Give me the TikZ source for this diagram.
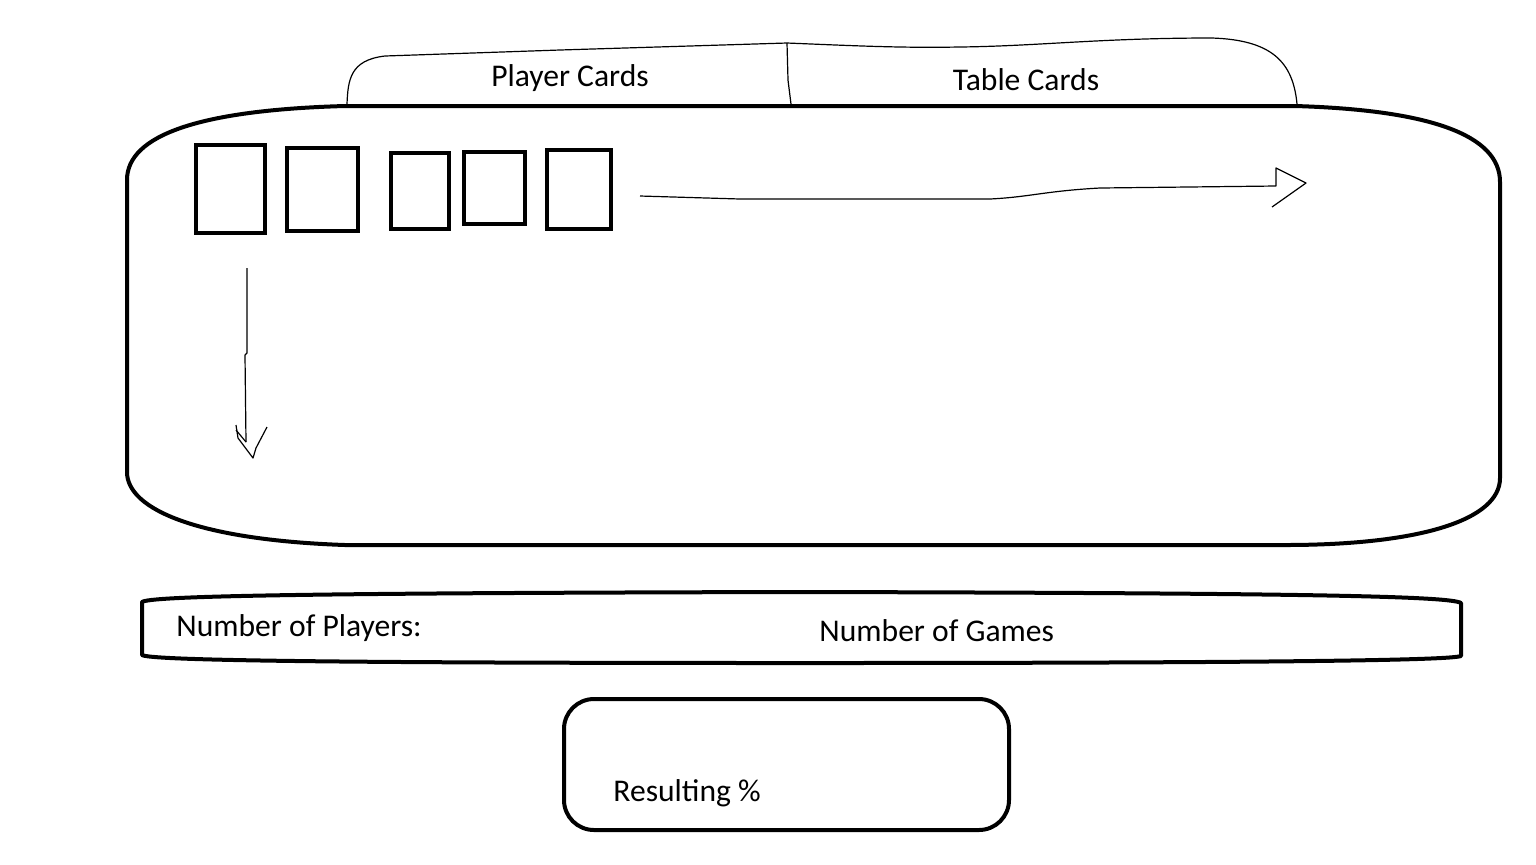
\documentclass[tikz,border=0pt]{standalone}
\usepackage{fontspec}
\setmainfont{Carlito}
\begin{document}
\begin{tikzpicture}[x=0.5pt,y=-0.5pt,
  thick line/.style={line width=2pt, line join=round},
  thin line/.style={line width=0.6pt, line join=round},
  card/.style={draw, line width=2.2pt, inner sep=0pt, anchor=north west},
  lbl/.style={font=\fontsize{15.8}{19}\selectfont, inner sep=0pt}]
\useasboundingbox (0,0) rectangle (1536,864);
% tabs
\draw[thin line] (347,104) .. controls (348,80) and (350,60) .. (385,56)
  -- (560,50) -- (787,43) .. controls (860,46) and (900,48) .. (960,47)
  .. controls (1040,46) and (1100,38) .. (1212,38)
  .. controls (1272,40) and (1293,62) .. (1297,104);
\draw[thin line] (787,43) -- (788,80) -- (791,104);
\node[lbl] (pc) at (570,78) {Player Cards};
\node[lbl] (tc) at (1026,80) {Table Cards};
% table
\draw[thick line] (345,106) -- (1295,106)
  .. controls (1430,110) and (1500,135) .. (1500,182)
  -- (1500,478) .. controls (1500,520) and (1420,545) .. (1285,545)
  -- (345,545) .. controls (200,540) and (127,510) .. (127,472)
  -- (127,180) .. controls (127,135) and (200,110) .. (345,106);
% cards
\node[card, minimum width=69pt*0.5, minimum height=88pt*0.5] (c1) at (194,143) {};
\node[card, minimum width=71pt*0.5, minimum height=83pt*0.5] (c2) at (285,146) {};
\node[card, minimum width=58pt*0.5, minimum height=76pt*0.5] (c3) at (389,151) {};
\node[card, minimum width=61pt*0.5, minimum height=72pt*0.5] (c4) at (462,150) {};
\node[card, minimum width=64pt*0.5, minimum height=79pt*0.5] (c5) at (545,148) {};
% horizontal arrow
\coordinate (hs) at (640,196);
\coordinate (he) at (1276,186);
\draw[thin line] (hs) -- (740,199) -- (990,199) .. controls (1030,197) and (1045,191) .. (1100,188) -- (he)
  -- (1276,168) -- (1306,183) -- (1272,207);
% vertical arrow
\coordinate (vs) at (247,268);
\coordinate (ve) at (246,442);
\draw[thin line] (vs) -- (247,353) -- (245,355) -- (ve);
\draw[thin line] (236,425) -- (238,438) -- (253,458) -- (256,448) -- (267,427);
\draw[thin line] (236,430) -- (246,442);
% bottom bar
\draw[thick line] (142,602) .. controls (150,596) and (300,593) .. (800,592)
  .. controls (1300,593) and (1450,596) .. (1461,603)
  -- (1461,656) .. controls (1450,660) and (1300,663) .. (800,663)
  .. controls (300,663) and (150,660) .. (142,655) -- cycle;
\node[lbl, anchor=west] (np) at (176,628) {Number of Players:};
\node[lbl, anchor=west] (ng) at (819,631) {Number of Games};
% result box
\draw[thick line, rounded corners=30pt*0.5] (564,699) rectangle (1009,830);
\node[lbl, anchor=west] (rp) at (613,793) {Resulting \%};
\end{tikzpicture}
\end{document}
